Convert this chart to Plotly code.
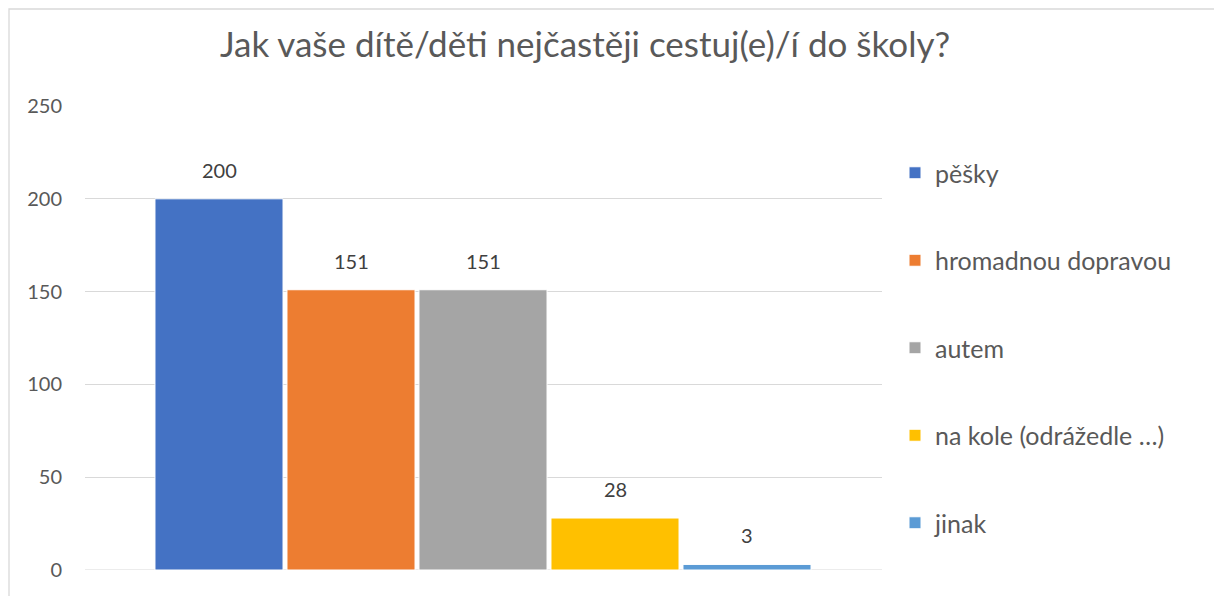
import plotly.graph_objects as go

# survey answers (one series per answer, Excel-style)
categories = ["pěšky", "hromadnou dopravou", "autem", "na kole (odrážedle …)", "jinak"]
counts = [200, 151, 151, 28, 3]
colors = ["#4472C4", "#ED7D31", "#A5A5A5", "#FFC000", "#5B9BD5"]
y_ticks = [0, 50, 100, 150, 200, 250]

title_text = "Jak vaše dítě/děti nejčastěji cestuj(e)/í do školy?"
FONT = "Lato"
GREY = "#595959"

# page body has an 8px margin, so work in window pixels and shift by O
O = 8
W, H = 1222 - O, 596 - O
L, R, T, B = 85 - O, 1222 - 882, 106 - O, 596 - 570
pw, ph = W - L - R, H - T - B


def px_x(p):
    return (p - O - L) / pw


def px_y(p):
    return (H - B - (p - O)) / ph


fig = go.Figure()
for i, (name, val) in enumerate(zip(categories, counts)):
    fig.add_trace(go.Bar(
        x=[name], y=[val], name=name,
        marker=dict(color=colors[i], line=dict(color="white", width=1)),
        legendgroup=name,
        hoverinfo="name+y",
    ))
    fig.add_annotation(
        x=name, y=val, text=str(val), showarrow=False,
        yanchor="bottom", yshift=15,
        font=dict(family=FONT, size=20, color="#404040"),
    )

fig.update_layout(
    width=W, height=H,
    margin=dict(l=L, r=R, t=T, b=B),
    plot_bgcolor="white", paper_bgcolor="white",
    barmode="overlay",
    bargap=0.03,
    showlegend=True,
    title=dict(text=title_text, x=(585 - O) / W, xanchor="center",
               y=1 - (45 - O) / H, yanchor="middle",
               font=dict(family=FONT, size=35, color=GREY)),
    legend=dict(x=px_x(895), xanchor="left", y=px_y(150), yanchor="top",
                font=dict(family=FONT, size=25, color=GREY),
                tracegroupgap=52, bgcolor="rgba(0,0,0,0)"),
    font=dict(family=FONT, color=GREY),
)
fig.update_xaxes(showticklabels=False, showgrid=False, zeroline=False,
                 showline=False, ticks="",
                 range=[-0.5 - (153 - 85) / 132, 4.5 + (882 - 813) / 132])
fig.update_yaxes(range=[0, 250], tickvals=y_ticks, showgrid=True,
                 gridcolor="#D9D9D9", gridwidth=1, zeroline=False,
                 showline=False, ticks="", ticklabelstandoff=22,
                 tickfont=dict(family=FONT, size=20, color=GREY))
fig.add_hline(y=0, line=dict(color="#D9D9D9", width=1), layer="below")

# chart border (runs off the right and bottom edges like the original crop)
fig.add_shape(type="rect", xref="paper", yref="paper",
              x0=px_x(9), x1=px_x(1240), y0=px_y(620), y1=px_y(9),
              line=dict(color="#D9D9D9", width=1.3), fillcolor="rgba(0,0,0,0)")

fig.write_html("out.html")
